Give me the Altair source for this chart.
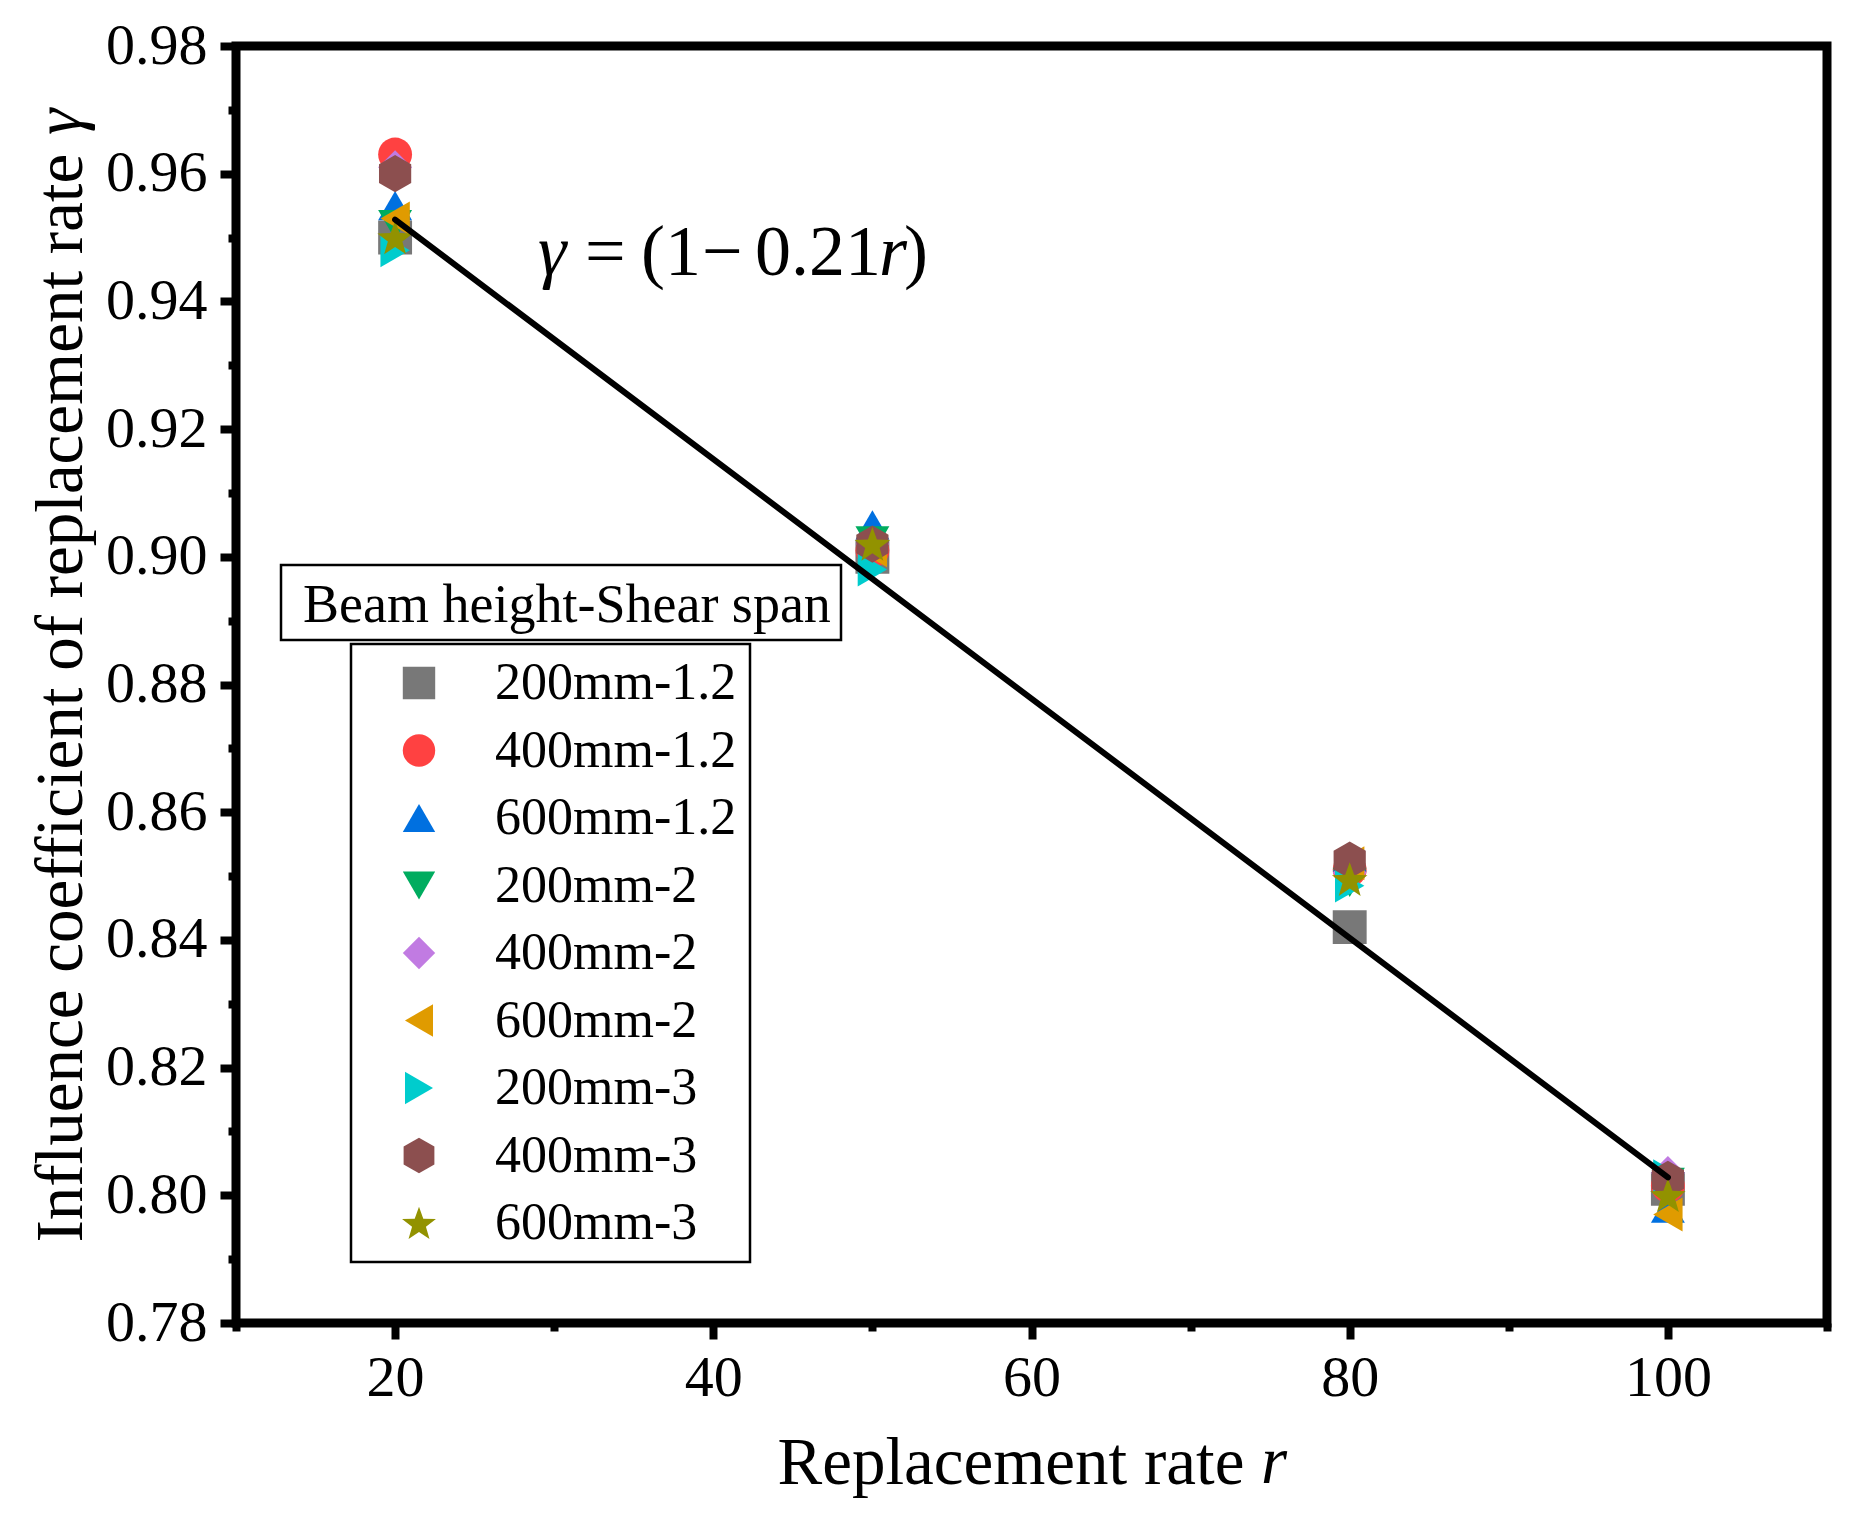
import math
import pandas as pd
import altair as alt

FONT = 'Liberation Serif'

# values
rates = [20, 50, 80, 100]
series = ['200mm-1.2', '400mm-1.2', '600mm-1.2', '200mm-2', '400mm-2',
          '600mm-2', '200mm-3', '400mm-3', '600mm-3']
g_200_12 = [0.950, 0.900, 0.842, 0.801]
g_400_12 = [0.963, 0.901, 0.851, 0.8015]
g_600_12 = [0.955, 0.905, 0.853, 0.798]
g_200_2 = [0.952, 0.9025, 0.849, 0.802]
g_400_2 = [0.961, 0.902, 0.8505, 0.8035]
g_600_2 = [0.953, 0.901, 0.852, 0.797]
g_200_3 = [0.948, 0.898, 0.8485, 0.803]
g_400_3 = [0.960, 0.902, 0.8525, 0.8025]
g_600_3 = [0.950, 0.902, 0.8495, 0.800]

fit_rate = [20, 100]
fit_gamma = [0.9528, 0.8028]

x_ticks = [10, 20, 30, 40, 50, 60, 70, 80, 90, 100, 110]
y_ticks = [0.78, 0.79, 0.80, 0.81, 0.82, 0.83, 0.84, 0.85, 0.86, 0.87, 0.88,
           0.89, 0.90, 0.91, 0.92, 0.93, 0.94, 0.95, 0.96, 0.97, 0.98]

legend_title = 'Beam height-Shear span'

colors = ['#787878', '#FF4141', '#0070E0', '#00AC5F', '#C17BE2',
          '#E09B00', '#00CCCD', '#8C4F4F', '#929200']

# hexagon (pointy top) and five-point star as svg paths
hexagon = 'M0,-1.1L0.95,-0.55L0.95,0.55L0,1.1L-0.95,0.55L-0.95,-0.55Z'
star_pts = []
for i in range(10):
    a = math.radians(-90 + 36 * i)
    r = 1.1 if i % 2 == 0 else 0.45
    star_pts.append(f'{r * math.cos(a):.3f},{r * math.sin(a) + 0.1:.3f}')
star = 'M' + 'L'.join(star_pts) + 'Z'
shapes = ['square', 'circle', 'triangle-up', 'triangle-down', 'diamond',
          'triangle-left', 'triangle-right', hexagon, star]

all_vals = [g_200_12, g_400_12, g_600_12, g_200_2, g_400_2,
            g_600_2, g_200_3, g_400_3, g_600_3]
rows = []
for k, (name, vals) in enumerate(zip(series, all_vals)):
    for r, g in zip(rates, vals):
        rows.append({'series': name, 'rate': r, 'gamma': g, 'k': k})
points = pd.DataFrame(rows)
fit = pd.DataFrame({'rate': fit_rate, 'gamma': fit_gamma})
one = pd.DataFrame({'t': [0]})

x_axis = alt.Axis(
    title='Replacement rate', titleFont=FONT, titleFontSize=67, titleFontWeight='normal',
    titleAlign='left', titleX=541, titleY=160, titleBaseline='alphabetic',
    values=x_ticks, labelExpr="datum.value % 20 === 0 ? datum.label : ''",
    labelFont=FONT, labelFontSize=58, labelColor='black', labelPadding=10,
    tickSize={'condition': {'test': 'datum.value % 20 !== 0', 'value': 8}, 'value': 16},
    tickWidth=8, tickColor='black', domain=False, grid=False, labelFlush=False)
y_axis = alt.Axis(
    title='Influence coefficient of replacement rate', titleFont=FONT, titleFontSize=67,
    titleFontWeight='normal', titleAngle=270, titleAlign='left', titleX=-155, titleY=1196,
    titleBaseline='alphabetic',
    values=y_ticks, labelExpr="round(datum.value * 100) % 2 === 0 ? format(datum.value, '.2f') : ''",
    labelFont=FONT, labelFontSize=58, labelColor='black', labelPadding=13,
    tickSize={'condition': {'test': 'round(datum.value * 100) % 2 !== 0', 'value': 8}, 'value': 16},
    tickWidth=8, tickColor='black', domain=False, grid=False, labelFlush=False)

x_scale = alt.Scale(domain=[10, 110], nice=False, zero=False)
y_scale = alt.Scale(domain=[0.78, 0.98], nice=False, zero=False)

leg = alt.Legend(title=None, orient='none', legendX=115, legendY=598,
                 strokeColor='black', fillColor='white', padding=13,
                 symbolSize=1050, symbolOffset=29, symbolStrokeWidth=0,
                 labelOffset=50, labelFont=FONT, labelFontSize=52, labelColor='black',
                 labelLimit=0, rowPadding=15.5)

pts = alt.Chart(points).mark_point(filled=True, opacity=1, size=1150, strokeWidth=0).encode(
    x=alt.X('rate:Q', scale=x_scale, axis=x_axis),
    y=alt.Y('gamma:Q', scale=y_scale, axis=y_axis),
    color=alt.Color('series:N', scale=alt.Scale(domain=series, range=colors), legend=leg),
    shape=alt.Shape('series:N', scale=alt.Scale(domain=series, range=shapes), legend=leg),
    order=alt.Order('k:Q'))

line = alt.Chart(fit).mark_line(color='black', strokeWidth=6, strokeCap='round').encode(
    x='rate:Q', y='gamma:Q')

# title box of the legend
title_box = alt.Chart(one).mark_rect(fill='white', stroke='black', strokeWidth=2.5).encode(
    x=alt.value(45), x2=alt.value(605), y=alt.value(519), y2=alt.value(594))
title_txt = alt.Chart(one).mark_text(text=legend_title, font=FONT, fontSize=54, align='left',
                                     baseline='alphabetic', color='black').encode(
    x=alt.value(67), y=alt.value(576))

# fitted equation, piece by piece for the italic letters
eq_parts = [('γ', 302, 'italic'), ('=', 349, 'normal'), ('(1', 405, 'normal'),
            ('−', 466, 'normal'), ('0.21', 519, 'normal'), ('r', 643, 'italic'),
            (')', 668, 'normal')]
eq_layers = [alt.Chart(one).mark_text(text=t, font=FONT, fontSize=72, fontStyle=st, align='left',
                                      baseline='alphabetic', color='black').encode(
    x=alt.value(px), y=alt.value(229)) for t, px, st in eq_parts]

# italic letters of the axis titles
x_r = alt.Chart(one).mark_text(text='r', font=FONT, fontSize=67, fontStyle='italic', align='left',
                               baseline='alphabetic', color='black').encode(
    x=alt.value(1025), y=alt.value(1437))
y_g = alt.Chart(one).mark_text(text='γ', font=FONT, fontSize=67, fontStyle='italic', align='left',
                               baseline='alphabetic', angle=270, color='black').encode(
    x=alt.value(-155), y=alt.value(89))

chart = alt.layer(pts, line, title_box, title_txt, *eq_layers, x_r, y_g).properties(
    width=1591, height=1277,
    autosize=alt.AutoSizeParams(type='none'),
    padding={'left': 228, 'top': 38, 'right': 20, 'bottom': 180},
).configure_view(stroke='black', strokeWidth=9).configure_legend(strokeWidth=2.5)

chart.save('out.html', embed_options={'renderer': 'svg', 'actions': False})
